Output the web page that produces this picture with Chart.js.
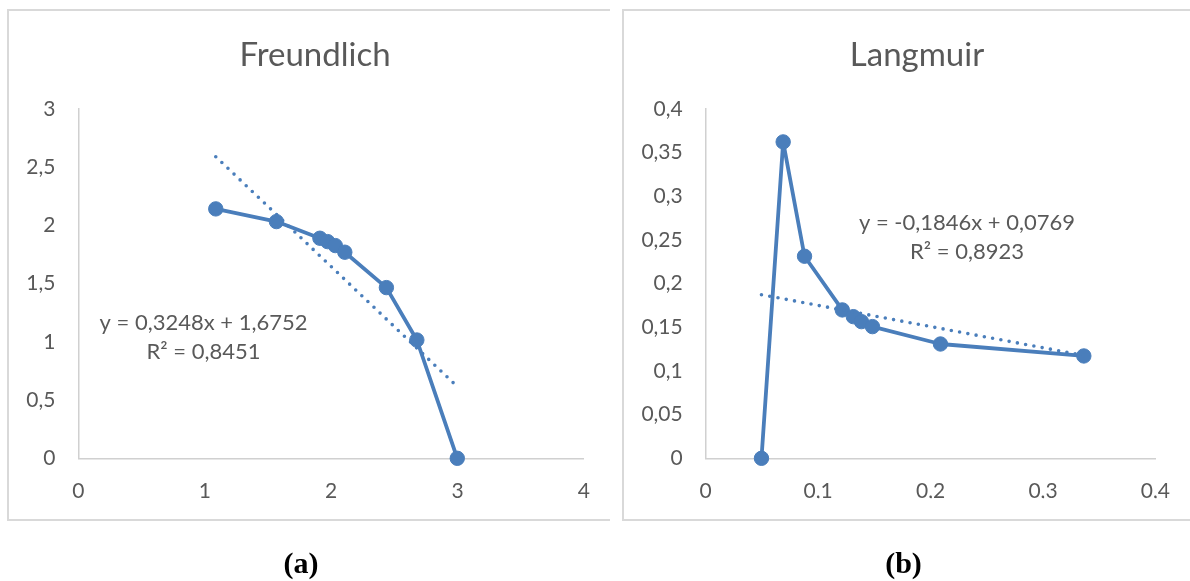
<!DOCTYPE html>
<html><head><meta charset="utf-8">
<script src="https://cdn.jsdelivr.net/npm/chart.js@4"></script>
<style>
body{margin:0;background:#fff;width:1190px;height:581px;overflow:hidden;position:relative}
.box{position:absolute;border:2px solid #d9d9d9;box-sizing:border-box;border-right:none}
canvas{position:absolute}
</style></head><body>
<div class="box" style="left:7px;top:9px;width:603px;height:512px"></div>
<div class="box" style="left:622px;top:9px;width:570px;height:512px"></div>
<canvas id="c1" style="left:8px;top:10px" width="602" height="571"></canvas>
<canvas id="c2" style="left:623px;top:10px" width="567" height="571"></canvas>
<script>
// ---- data ----
const freundlichX = [1.087, 1.567, 1.911, 1.972, 2.033, 2.108, 2.437, 2.678, 2.998];
const freundlichY = [2.142, 2.033, 1.890, 1.861, 1.827, 1.770, 1.466, 1.016, 0];
const freundlichXTicks = [0, 1, 2, 3, 4];
const freundlichYTicks = [0, 0.5, 1, 1.5, 2, 2.5, 3];

const langmuirX = [0.0496, 0.0689, 0.0879, 0.1215, 0.1313, 0.1385, 0.1483, 0.2088, 0.3363];
const langmuirY = [0, 0.3623, 0.2314, 0.1699, 0.1622, 0.1565, 0.1508, 0.1309, 0.1172];
const langmuirXTicks = [0, 0.1, 0.2, 0.3, 0.4];
const langmuirYTicks = [0, 0.05, 0.1, 0.15, 0.2, 0.25, 0.3, 0.35, 0.4];

const titles = ['Freundlich', 'Langmuir'];
const equations = [['y = 0,3248x + 1,6752', 'R² = 0,8451'], ['y = -0,1846x + 0,0769', 'R² = 0,8923']];
const panelLabels = ['a', 'b'];

// ---- style ----
const BLUE = '#4a7ebb';
const AXIS = '#d0d0d0';
const TXT = '#595959';
const FONT = 'Lato, "Open Sans", sans-serif';

function fmt(v){ return String(Math.round(v*10000)/10000).replace('.', ','); }
function linfit(xs, ys){
  const n = xs.length;
  const mx = xs.reduce((a,b)=>a+b,0)/n, my = ys.reduce((a,b)=>a+b,0)/n;
  let sxy=0, sxx=0;
  for(let i=0;i<n;i++){ sxy += (xs[i]-mx)*(ys[i]-my); sxx += (xs[i]-mx)**2; }
  const b = sxy/sxx; return {a: my - b*mx, b};
}

function makeChart(id, xs, ys, xTicks, yTicks, g, t){
  const pts = xs.map((x,i)=>({x, y: ys[i]}));
  const fit = linfit(xs, ys);
  const x0 = Math.min(...xs), x1 = Math.max(...xs);
  const trend = [{x:x0, y:fit.a+fit.b*x0}, {x:x1, y:fit.a+fit.b*x1}];
  const textPlugin = {
    id:'txt',
    afterDraw(chart){
      const c = chart.ctx; c.save();
      c.fillStyle = TXT; c.textAlign = 'center'; c.textBaseline = 'alphabetic';
      c.font = '33px ' + FONT; c.fillText(t.title, g.titleX, g.titleY);
      c.font = '22px ' + FONT;
      c.fillText(t.eq[0], g.eqX, g.eqY);
      c.fillText(t.eq[1], g.eqX, g.eqY + 29);
      c.fillStyle = '#000';
      c.font = 'bold 30px "Liberation Serif", "Times New Roman", serif';
      c.fillText('(' + t.label + ')', g.labX, g.labY);
      c.restore();
    }
  };
  const axisCommon = {
    type:'linear',
    grid:{display:false, drawTicks:false, tickLength:0},
    border:{display:true, color:AXIS, width:1.5},
  };
  return new Chart(document.getElementById(id), {
    type:'scatter',
    data:{datasets:[
      {data:trend, showLine:true, borderColor:BLUE, borderWidth:3.6, borderDash:[0,8.4], borderCapStyle:'round',
       pointRadius:0, pointHoverRadius:0, fill:false, clip:false},
      {data:pts, showLine:true, borderColor:BLUE, backgroundColor:BLUE, borderWidth:3.8, tension:0,
       borderJoinStyle:'round', borderCapStyle:'round',
       pointRadius:7.2, pointBorderWidth:1, pointBackgroundColor:BLUE, pointBorderColor:BLUE, fill:false, clip:false}
    ]},
    options:{
      responsive:false, animation:false, events:[],
      layout:{padding:{left:0, right:g.right, top:99, bottom:g.bottom}},
      plugins:{legend:{display:false}, tooltip:{enabled:false}, title:{display:false}},
      scales:{
        x:Object.assign({}, axisCommon, {
          min:xTicks[0], max:xTicks[xTicks.length-1],
          afterBuildTicks:s=>{ s.ticks = xTicks.map(v=>({value:v})); },
          afterFit:s=>{ s.height = 40; },
          ticks:{padding:20, color:TXT, font:{family:FONT, size:21}, callback:v=>fmt(v), maxRotation:0, autoSkip:false}
        }),
        y:Object.assign({}, axisCommon, {
          min:yTicks[0], max:yTicks[yTicks.length-1],
          afterBuildTicks:s=>{ s.ticks = yTicks.map(v=>({value:v})); },
          afterFit:s=>{ s.width = g.yw; },
          ticks:{padding:23, color:TXT, font:{family:FONT, size:21}, callback:v=>fmt(v), autoSkip:false}
        })
      }
    },
    plugins:[textPlugin]
  });
}

makeChart('c1', freundlichX, freundlichY, freundlichXTicks, freundlichYTicks,
  {yw:70.4, right:24, bottom:82.7, titleX:307, titleY:55.7, eqX:195.5, eqY:320, labX:293, labY:563.3},
  {title:titles[0], eq:equations[0], label:panelLabels[0]});
makeChart('c2', langmuirX, langmuirY, langmuirXTicks, langmuirYTicks,
  {yw:82.7, right:24, bottom:82.7, titleX:294, titleY:55.7, eqX:344, eqY:220, labX:280.5, labY:563},
  {title:titles[1], eq:equations[1], label:panelLabels[1]});
</script>
</body></html>
